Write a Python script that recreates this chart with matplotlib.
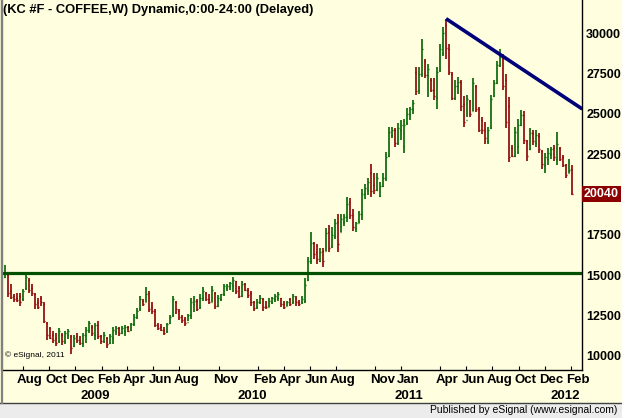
import matplotlib.pyplot as plt
import matplotlib.transforms as mtransforms
import pandas as pd
from matplotlib.patches import Rectangle
from matplotlib.lines import Line2D

plt.rcParams['font.family'] = ['Liberation Sans', 'DejaVu Sans']

# Weekly OHLC, KC #F coffee (price x100)
first_week = '2008-06-20'

opens = [
    14900, 15000, 14000, 13700, 13600, 13700, 13500, 14200, 14700, 14200,
    13800, 13300, 13550, 13200, 12050, 11700, 11300, 11100, 10900, 11300,
    10900, 11300, 11200, 10600, 11200, 11000, 10800, 11300, 11600, 11800,
    11300, 11900, 11200, 10900, 11100, 10800, 11100, 11500, 11700, 11400,
    11500, 11800, 11600, 11950, 12400, 12900, 13400, 13300, 13900, 13000,
    12800, 11900, 11800, 11600, 11500, 12000, 12500, 13300, 12800, 12400,
    12300, 12100, 12500, 13200, 13400, 13000, 13600, 13900, 13500, 13300,
    13900, 13100, 13500, 13800, 14200, 14300, 14400, 14600, 14200, 13700,
    14450, 14100, 13900, 13300, 13000, 13300, 13500, 13100, 13000, 13300,
    13500, 13600, 13600, 13200, 13050, 13500, 13300, 13600, 13300, 13300,
    13400, 14700, 15900, 17000, 16400, 15900, 16500, 16500, 17700, 16800,
    17400, 18300, 17700, 18300, 18600, 19500, 18700, 17900, 18200, 18800,
    20000, 20300, 21300, 20600, 20300, 19900, 20500, 21000, 22400, 23700,
    24000, 23200, 24000, 23000, 24400, 25000, 25300, 27600, 26500, 27500,
    28300, 27400, 27100, 26500, 26000, 27700, 28800, 30500, 29000, 27500,
    26000, 26700, 27000, 25600, 24600, 25800, 25200, 26700, 25300, 24600,
    24000, 23300, 24100, 26100, 26900, 28000, 28500, 27100, 25500, 22900,
    22400, 23000, 24300, 24900, 23300, 22800, 23800, 23200, 23600, 22700,
    21800, 22200, 22500, 22900, 22200, 22900, 22300, 21800, 21300, 21600,
]
highs = [
    15600, 15100, 14450, 13850, 13900, 13900, 14150, 15100, 14800, 14450,
    13900, 13550, 13700, 13300, 12100, 11800, 11500, 11400, 11700, 11400,
    11550, 11650, 11300, 11300, 11400, 11200, 11400, 11750, 12150, 11900,
    12050, 12150, 11300, 11450, 11150, 11350, 11750, 11850, 11800, 11850,
    11900, 11850, 12050, 12600, 12950, 13700, 13500, 14250, 14000, 13300,
    12900, 12050, 11950, 11800, 12050, 12500, 13700, 13400, 12900, 12500,
    12400, 12600, 13600, 13700, 13500, 13800, 14250, 13950, 13850, 14350,
    13950, 13750, 13850, 14450, 14450, 14550, 14900, 14650, 14350, 14600,
    14500, 14200, 14000, 13400, 13500, 13750, 13600, 13400, 13550, 13650,
    13850, 13950, 13600, 13400, 13400, 13600, 13850, 13700, 13450, 13700,
    14800, 16100, 17650, 17050, 16950, 16700, 16700, 17900, 18100, 17950,
    18500, 18800, 18800, 18800, 19850, 19750, 19100, 18300, 19000, 20350,
    20650, 21000, 21900, 21300, 21300, 20750, 21300, 22650, 24200, 24200,
    24100, 24400, 24600, 24700, 25350, 25450, 25850, 27900, 27900, 29650,
    28400, 28100, 27200, 27200, 27900, 29350, 30400, 30900, 29350, 27600,
    27100, 27300, 27100, 26100, 26150, 25850, 27200, 26800, 25450, 24800,
    24500, 24200, 26150, 27100, 28300, 29000, 28700, 27500, 26050, 23050,
    24200, 24700, 25250, 25200, 23400, 24100, 24000, 24000, 23800, 22750,
    22550, 22850, 22950, 23050, 23900, 22950, 22450, 21900, 22200, 21800,
]
lows = [
    14800, 13650, 13500, 13300, 13300, 13100, 13400, 14100, 13900, 13700,
    12900, 12900, 13050, 12050, 11000, 11050, 10800, 10600, 10800, 10650,
    10750, 11050, 10100, 10550, 10800, 10650, 10550, 10800, 11400, 11200,
    11000, 11050, 10700, 10800, 10500, 10700, 10750, 11300, 11200, 11350,
    11200, 11450, 11500, 11850, 12300, 12800, 13100, 13300, 12700, 12600,
    11800, 11600, 11550, 11250, 11400, 11950, 12400, 12600, 12200, 12000,
    11850, 12150, 12300, 12700, 12800, 12900, 13400, 13400, 13200, 13300,
    12900, 13000, 13400, 13700, 14000, 14100, 13950, 13800, 13550, 13650,
    14000, 13600, 13100, 12800, 12900, 13200, 12800, 12900, 13000, 13200,
    13300, 13400, 13000, 12900, 13050, 13100, 13200, 13100, 13050, 13200,
    13250, 14650, 15700, 16000, 15700, 15800, 15500, 16500, 16400, 16700,
    17250, 16400, 17650, 18050, 18300, 18500, 17750, 17650, 18250, 18400,
    19700, 19950, 19850, 20000, 20200, 19850, 20450, 20850, 22300, 23500,
    22950, 23050, 23400, 22550, 24300, 24600, 25000, 26150, 26250, 27300,
    27200, 26050, 26350, 25850, 25300, 27600, 28600, 28400, 27400, 25850,
    25850, 26250, 25200, 24200, 24800, 24800, 25200, 25100, 23850, 23750,
    23150, 23150, 24050, 26050, 26850, 27900, 26450, 24100, 22000, 22300,
    22300, 22500, 24250, 23150, 22100, 22750, 23050, 22950, 22550, 21600,
    21300, 21850, 22200, 22100, 21800, 22100, 21700, 21050, 21300, 19950,
]
closes = [
    15100, 13900, 13650, 13500, 13450, 13300, 14000, 14850, 14100, 13900,
    13200, 13000, 13300, 12150, 11300, 11100, 11000, 10800, 11500, 10900,
    11400, 11500, 10500, 11100, 10950, 10800, 11300, 11600, 12000, 11400,
    11900, 11200, 10900, 11300, 10700, 11200, 11600, 11700, 11400, 11700,
    11750, 11550, 11950, 12400, 12800, 13500, 13200, 13800, 12900, 12800,
    11900, 11700, 11600, 11400, 11950, 12400, 13500, 12900, 12400, 12200,
    12000, 12500, 13300, 13400, 12900, 13600, 14000, 13500, 13300, 14100,
    13100, 13600, 13800, 14300, 14350, 14500, 14700, 14000, 13700, 14450,
    14100, 13750, 13300, 12950, 13300, 13600, 13000, 13000, 13400, 13550,
    13700, 13800, 13200, 13000, 13300, 13200, 13700, 13300, 13200, 13500,
    14400, 15900, 17000, 16300, 16000, 16400, 15900, 17600, 16700, 17500,
    18200, 16900, 18500, 18600, 19400, 18700, 18000, 18200, 18800, 20000,
    20400, 20800, 20200, 20300, 21000, 20500, 21000, 22300, 23900, 24000,
    23200, 24100, 24300, 24300, 25000, 25300, 25700, 26400, 27500, 29000,
    27400, 27800, 26500, 26100, 27600, 29000, 30000, 29100, 27600, 26000,
    26700, 27000, 25500, 24500, 25900, 25000, 26900, 25300, 24000, 24000,
    23500, 24000, 25900, 26900, 28000, 28500, 26700, 24500, 22300, 22400,
    23900, 24300, 24900, 23400, 22400, 23800, 23300, 23700, 22800, 21900,
    22300, 22600, 22800, 22300, 23100, 22200, 21800, 21200, 21500, 20040,
]

support_level = 15100
trend_weeks = [147, 192.4]
trend_prices = [30900, 25300]
last_price = '20040'

month_labels = ['Aug', 'Oct', 'Dec', 'Feb', 'Apr', 'Jun', 'Aug', 'Nov', 'Feb', 'Apr',
                'Jun', 'Aug', 'Nov', 'Jan', 'Apr', 'Jun', 'Aug', 'Oct', 'Dec', 'Feb']
month_dates = ['2008-08-01', '2008-10-01', '2008-12-01', '2009-02-01', '2009-04-01',
               '2009-06-01', '2009-08-01', '2009-11-01', '2010-02-01', '2010-04-01',
               '2010-06-01', '2010-08-01', '2010-11-01', '2011-01-01', '2011-04-01',
               '2011-06-01', '2011-08-01', '2011-10-01', '2011-12-01', '2012-02-01']
year_labels = ['2009', '2010', '2011', '2012']
year_dates = ['2009-01-01', '2010-01-01', '2011-01-01', '2012-01-01']
price_ticks = [10000, 12500, 15000, 17500, 22500, 25000, 27500, 30000]

bg = '#FFFFE0'
up_col = '#006400'
down_col = '#8B0000'

start = pd.Timestamp(first_week)
def week_pos(d):
    return (pd.Timestamp(d) - start).days / 7.0

fig = plt.figure(figsize=(6.22, 4.18), dpi=100, facecolor=bg)
W, H = 622, 418
ax = fig.add_axes([2 / W, (H - 370) / H, 580 / W, 370 / H])
ax.set_facecolor(bg)

n = len(closes)
for i in range(n):
    c = up_col if closes[i] >= opens[i] else down_col
    ax.vlines(i, lows[i], highs[i], color=c, lw=1.2)
    ax.hlines(opens[i], i - 0.45, i, color=c, lw=1.0)
    ax.hlines(closes[i], i, i + 0.45, color=c, lw=1.0)

ax.axhline(support_level, color='#005000', lw=2.3, zorder=3)
ax.plot(trend_weeks, trend_prices, color='#00007A', lw=2.6, zorder=3,
        solid_capstyle='butt')

ax.set_xlim(-1, 192.3)
ax.set_ylim(9110, 32060)

# spines
ax.spines['top'].set_visible(False)
ax.spines['left'].set_color('#808080')
ax.spines['left'].set_linewidth(1.6)
ax.spines['right'].set_color('black')
ax.spines['right'].set_linewidth(1.0)
ax.spines['bottom'].set_color('black')
ax.spines['bottom'].set_linewidth(1.0)

ax.yaxis.tick_right()
ax.set_yticks(price_ticks)
ax.set_yticklabels([str(p) for p in price_ticks])
ax.tick_params(axis='y', length=0, pad=3, labelsize=9)
for lab in ax.get_yticklabels():
    lab.set_fontweight('bold')

mpos = [week_pos(d) for d in month_dates]
ax.set_xticks(mpos)
ax.set_xticklabels([])
ax.tick_params(axis='x', direction='in', length=3, width=0.8, color='black')

tr = mtransforms.blended_transform_factory(ax.transData, ax.transAxes)
for lab, x in zip(month_labels, mpos):
    ax.text(x + 2.3, -0.028, lab, transform=tr, ha='center', va='center',
            fontsize=9.5, fontweight='bold', clip_on=False)
for lab, d in zip(year_labels, year_dates):
    ax.text(week_pos(d) + 2.3, -0.071, lab, transform=tr, ha='center', va='center',
            fontsize=9.5, fontweight='bold', clip_on=False)

# last price box
tr2 = mtransforms.blended_transform_factory(ax.transAxes, ax.transData)
ax.text(1.003, float(last_price), last_price, transform=tr2, ha='left', va='center',
        fontsize=9, fontweight='bold', color='white', clip_on=False,
        bbox=dict(boxstyle='square,pad=0.15', fc='#8B0000', ec='none'))

ax.text(0.002, 0.988, '(KC #F - COFFEE,W) Dynamic,0:00-24:00 (Delayed)',
        transform=ax.transAxes, ha='left', va='top', fontsize=9.3, fontweight='bold')
ax.text(0.005, 0.04, '\u00a9 eSignal, 2011', transform=ax.transAxes,
        ha='left', va='center', fontsize=6)

# bottom status strip
fig.add_artist(Rectangle((0, 0), 1, 15 / H, transform=fig.transFigure,
                         facecolor='#ECECEC', edgecolor='none'))
fig.add_artist(Line2D([0, 1], [15.5 / H, 15.5 / H], transform=fig.transFigure,
                      color='#404040', lw=1.0))
fig.add_artist(Line2D([1.5 / W, 1.5 / W], [15.5 / H, 1], transform=fig.transFigure,
                      color='#808080', lw=1.6))
fig.text(617 / W, 8 / H, 'Published by eSignal (www.esignal.com)', ha='right',
         va='center', fontsize=7.5)

fig.savefig('out.png', dpi=100, facecolor=bg)
